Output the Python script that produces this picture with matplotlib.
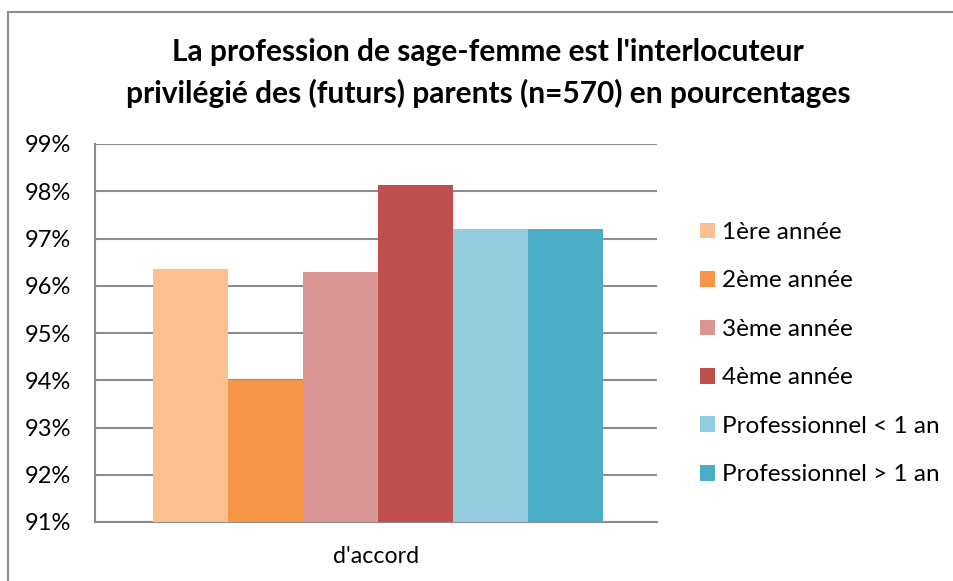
import matplotlib
matplotlib.use("Agg")
import matplotlib.pyplot as plt
from matplotlib.patches import Rectangle
from matplotlib.ticker import FuncFormatter

categories = ["d'accord"]
series = ["1ère année", "2ème année", "3ème année", "4ème année",
          "Professionnel < 1 an", "Professionnel > 1 an"]
values = [96.35, 94.0, 96.3, 98.13, 97.2, 97.2]
colors = ["#FAC090", "#F79646", "#D99694", "#C0504D", "#93CDDD", "#4BACC6"]
yticks = [91, 92, 93, 94, 95, 96, 97, 98, 99]
title_lines = ["La profession de sage-femme est l'interlocuteur",
               "privilégié des (futurs) parents (n=570) en pourcentages"]

W, H = 954, 581
plt.rcParams['font.family'] = ['Lato', 'DejaVu Sans']
fig = plt.figure(figsize=(W / 100, H / 100), dpi=100)
ax = fig.add_axes([95 / W, 1 - 522 / H, (657 - 95) / W, (522 - 144) / H])

bw = 0.1335
for i, (s, v, c) in enumerate(zip(series, values, colors)):
    ax.bar(0 + (i - 2.5) * bw + 0.004, v - 91, bottom=91, width=bw, color=c,
           label=s, zorder=3)

ax.set_xlim(-0.5, 0.5)
ax.set_ylim(91, 99)
ax.set_yticks(yticks)
ax.yaxis.set_major_formatter(FuncFormatter(lambda v, p: f"{v:.0f}%"))
ax.set_xticks([0])
ax.set_xticklabels(categories)
ax.tick_params(axis='both', length=0, colors='black')
ax.tick_params(axis='y', pad=17, labelsize=17)
ax.tick_params(axis='x', pad=17, labelsize=16.7)
ax.grid(axis='y', color='#8c8c8c', linewidth=1.5, zorder=0)
for side in ['top', 'right']:
    ax.spines[side].set_visible(False)
for side in ['left', 'bottom']:
    ax.spines[side].set_color('#8c8c8c')
    ax.spines[side].set_linewidth(1.5)

leg = fig.legend(loc='upper left', bbox_to_anchor=(700 / W, 1 - 222 / H),
                 frameon=False, fontsize=17.5, handlelength=0.62, handleheight=0.62,
                 handletextpad=0.3, labelspacing=1.13, borderpad=0,
                 borderaxespad=0)

fig.text(488 / W, 1 - 52 / H, title_lines[0],
         ha='center', va='center', fontsize=21.5, fontweight='bold')
fig.text(488 / W, 1 - 93 / H, title_lines[1],
         ha='center', va='center', fontsize=21.5, fontweight='bold')

fig.patches.append(Rectangle((8 / W, -0.2), 1.5, 1 - 12 / H + 0.2,
                             transform=fig.transFigure, fill=False,
                             edgecolor='#8c8c8c', linewidth=1.5))

fig.savefig("out.png", dpi=100)
